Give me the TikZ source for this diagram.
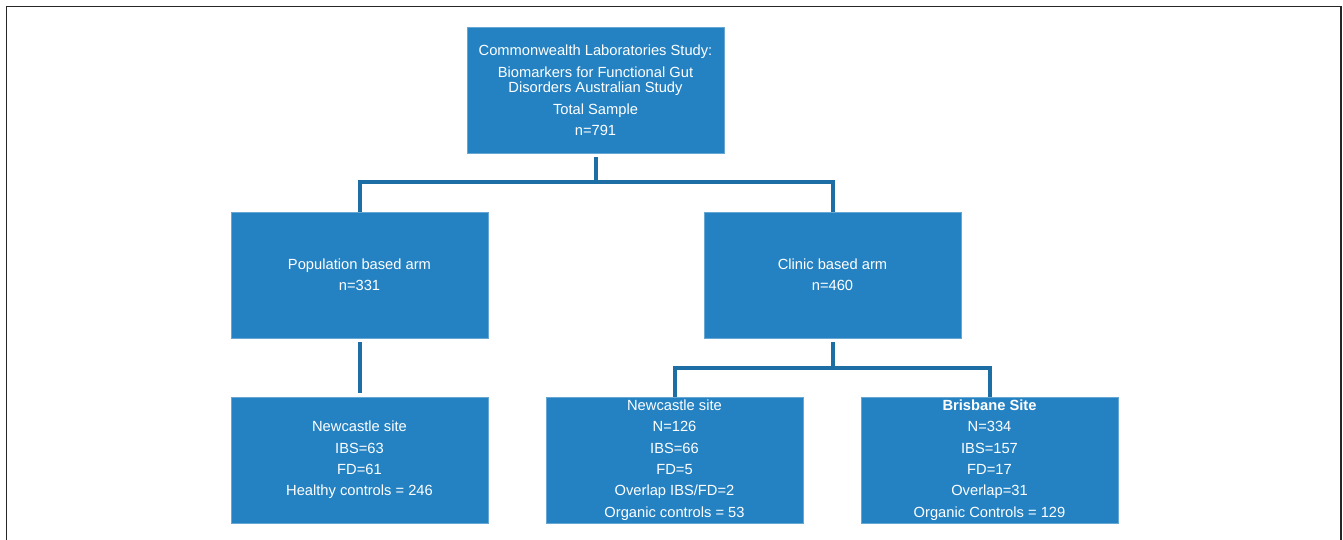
\documentclass[tikz,border=0pt]{standalone}
\usepackage{fontspec}
\setmainfont{Liberation Sans}
\definecolor{boxblue}{RGB}{36,130,194}
\definecolor{lineblue}{RGB}{30,110,166}
\begin{document}
\begin{tikzpicture}[x=1pt,y=-1pt,
  box/.style={draw=boxblue!70!white, line width=0.6pt, fill=boxblue, text=white, minimum width=257pt, minimum height=126pt, inner sep=0pt, align=center, font=\fontsize{14.7}{21.4}\selectfont},
  conn/.style={draw=lineblue, line width=4pt}]
\useasboundingbox (0,0) rectangle (1343,540);
\draw[line width=1.3pt, black!85] (6.5,560) -- (6.5,6.5) -- (1341,6.5) -- (1341,560);
\node[box, font=\fontsize{14.7}{15.5}\selectfont] (top) at (595.5,90) {Commonwealth Laboratories Study:\\[6.5pt]Biomarkers for Functional Gut\\Disorders Australian Study\\[6.5pt]Total Sample\\[5pt]n=791};
\node[box] (pop) at (359.5,275) {Population based arm\\n=331};
\node[box] (clin) at (832.5,275) {Clinic based arm\\n=460};
\node[box] (n1) at (359.5,460) {Newcastle site\\IBS=63\\FD=61\\Healthy controls = 246};
\node[box] (n2) at (674.5,460) {Newcastle site\\N=126\\IBS=66\\FD=5\\Overlap IBS/FD=2\\Organic controls = 53};
\node[box] (bris) at (989.5,460) {\textbf{Brisbane Site}\\N=334\\IBS=157\\FD=17\\Overlap=31\\Organic Controls = 129};
\coordinate (j1) at ([yshift=-29pt]top.south);
\coordinate (j2) at ([yshift=-30pt]clin.south);
\draw[conn] ([yshift=-4pt]top.south) -- (j1);
\draw[conn] (pop.north) -- (pop.north |- j1) -- (clin.north |- j1) -- (clin.north);
\draw[conn] ([yshift=-4pt]pop.south) -- ([yshift=4pt]n1.north);
\draw[conn] ([yshift=-4pt]clin.south) -- (j2);
\draw[conn] (n2.north) -- (n2.north |- j2) -- (bris.north |- j2) -- (bris.north);
\end{tikzpicture}
\end{document}
